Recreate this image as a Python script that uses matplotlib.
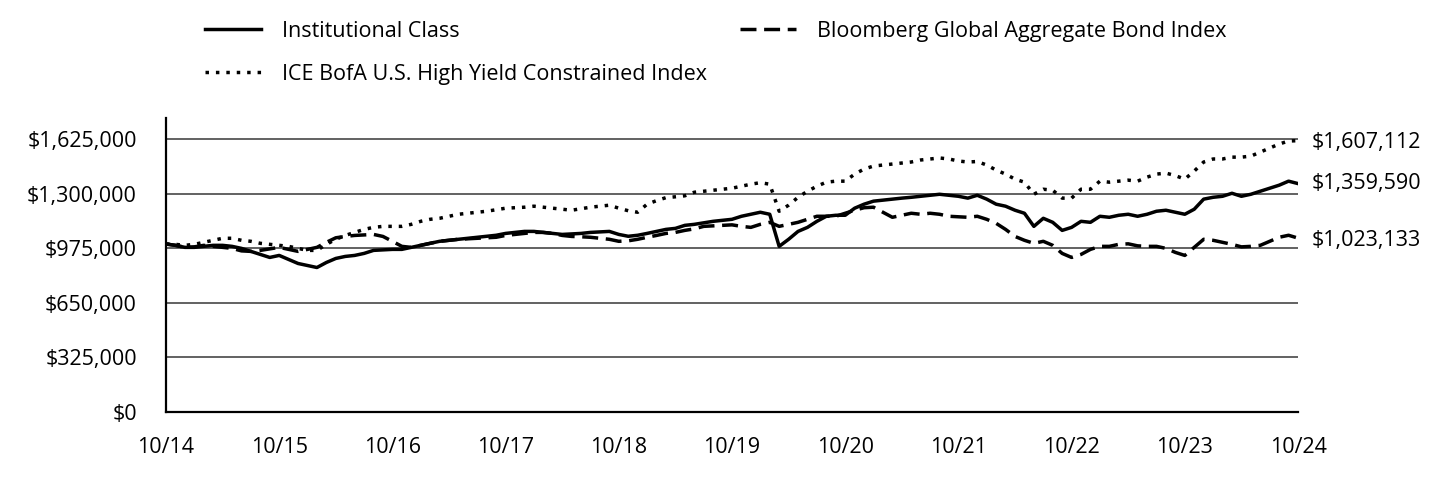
import matplotlib
matplotlib.use("Agg")
import matplotlib.pyplot as plt
from matplotlib.ticker import FuncFormatter

plt.rcParams['font.family'] = ['Open Sans', 'DejaVu Sans']

# growth of $1,000,000, monthly 10/14 .. 10/24, values in thousands of dollars
inst_k = [1000, 992, 980, 980, 986, 992, 992, 986, 974, 956, 938, 920, 932,
          908, 884, 872, 860, 890, 914, 926, 932, 944, 962, 965, 968,
          968, 980, 992, 1004, 1016, 1022, 1028, 1034, 1040, 1046, 1052, 1063,
          1069, 1075, 1075, 1069, 1063, 1057, 1060, 1063, 1069, 1072, 1075, 1057,
          1046, 1052, 1063, 1075, 1087, 1093, 1111, 1117, 1126, 1135, 1141, 1147,
          1165, 1177, 1189, 1177, 986, 1028, 1075, 1099, 1135, 1165, 1171, 1171,
          1213, 1237, 1255, 1261, 1267, 1273, 1278, 1284, 1290, 1296, 1290, 1284,
          1273, 1290, 1267, 1237, 1225, 1201, 1183, 1105, 1153, 1129, 1081, 1099,
          1135, 1129, 1165, 1159, 1171, 1177, 1165, 1177, 1195, 1201, 1189, 1177,
          1207, 1267, 1278, 1284, 1302, 1284, 1296, 1314, 1332, 1350, 1374, 1359.59]

bbg_k = [1000, 992, 980, 983, 992, 986, 980, 974, 959, 956, 962, 971, 980,
         968, 956, 968, 980, 1010, 1037, 1045, 1051, 1054, 1057, 1045, 1016,
         986, 980, 992, 1004, 1016, 1022, 1028, 1031, 1034, 1037, 1040, 1051,
         1057, 1063, 1069, 1069, 1063, 1051, 1045, 1043, 1040, 1034, 1028, 1016,
         1019, 1028, 1040, 1051, 1063, 1069, 1081, 1090, 1105, 1108, 1111, 1114,
         1105, 1099, 1117, 1129, 1105, 1117, 1129, 1147, 1165, 1165, 1165, 1183,
         1201, 1216, 1219, 1189, 1159, 1171, 1183, 1177, 1183, 1177, 1165, 1162,
         1159, 1165, 1147, 1123, 1087, 1045, 1022, 1004, 1016, 992, 944, 920,
         938, 968, 986, 986, 998, 1001, 989, 986, 986, 974, 950, 932,
         980, 1028, 1022, 1010, 998, 983, 986, 992, 1016, 1040, 1052, 1035]

hy_k = [1000, 998, 992, 998, 1010, 1022, 1034, 1034, 1022, 1016, 1004, 998, 992,
        986, 974, 962, 962, 998, 1028, 1051, 1069, 1087, 1099, 1105, 1105,
        1105, 1117, 1135, 1147, 1153, 1165, 1177, 1183, 1189, 1195, 1204, 1213,
        1216, 1219, 1225, 1219, 1213, 1207, 1201, 1210, 1219, 1225, 1231, 1213,
        1198, 1189, 1237, 1258, 1276, 1281, 1287, 1308, 1314, 1320, 1326, 1332,
        1344, 1356, 1365, 1356, 1195, 1231, 1278, 1314, 1344, 1368, 1374, 1374,
        1416, 1446, 1464, 1470, 1476, 1482, 1488, 1500, 1506, 1512, 1506, 1494,
        1488, 1491, 1470, 1440, 1416, 1386, 1368, 1296, 1326, 1320, 1273, 1273,
        1326, 1326, 1374, 1368, 1374, 1380, 1374, 1398, 1416, 1422, 1407, 1386,
        1434, 1488, 1506, 1506, 1517, 1517, 1523, 1547, 1571, 1595, 1613, 1615]

end_labels = ["$1,359,590", "$1,023,133", "$1,607,112"]
end_values = [1359590, 1023133, 1607112]

x_labels = ["10/14", "10/15", "10/16", "10/17", "10/18", "10/19",
            "10/20", "10/21", "10/22", "10/23", "10/24"]
y_ticks = [0, 325000, 650000, 975000, 1300000, 1625000]

months = list(range(len(inst_k)))
inst = [v * 1000 for v in inst_k]
bbg = [v * 1000 for v in bbg_k]
hy = [v * 1000 for v in hy_k]

fs = 15.5

fig = plt.figure(figsize=(14.4, 4.8), dpi=100)
ax = fig.add_axes([166 / 1440, 1 - 412 / 480, (1298 - 166) / 1440, (412 - 118) / 480])

lw = 2.5
l1, = ax.plot(months, inst, color="black", lw=lw, label="Institutional Class", zorder=5)
l2, = ax.plot(months, bbg, color="black", lw=lw, dashes=(4.6, 2.2),
              label="Bloomberg Global Aggregate Bond Index", zorder=4)
l3, = ax.plot(months, hy, color="black", lw=lw, dashes=(1, 2.0),
              label="ICE BofA U.S. High Yield Constrained Index", zorder=3)

ax.set_xlim(0, 120)
ax.set_ylim(0, 1750000)
ax.set_yticks(y_ticks)
ax.yaxis.set_major_formatter(FuncFormatter(lambda v, p: "${:,.0f}".format(v)))
ax.set_xticks(list(range(0, 121, 12)))
ax.set_xticklabels(x_labels)
ax.tick_params(axis="y", length=0, pad=21, labelsize=fs)
ax.tick_params(axis="x", length=0, pad=18, labelsize=fs)

ax.grid(axis="y", color="#555555", lw=1.3)
ax.set_axisbelow(True)
for s in ["top", "right"]:
    ax.spines[s].set_visible(False)
ax.spines["left"].set_linewidth(1.6)
ax.spines["bottom"].set_linewidth(1.6)

for txt, v in zip(end_labels, end_values):
    ax.annotate(txt, xy=(120, v), xytext=(10, 0), textcoords="offset points",
                ha="left", va="center", fontsize=fs, annotation_clip=False)

fig.legend(handles=[l1, l3, l2], loc="upper left", ncol=2,
           bbox_to_anchor=(205 / 1440, 1 - 21 / 480), frameon=False,
           fontsize=fs, borderpad=0, borderaxespad=0, handlelength=2.6,
           handletextpad=1.0, columnspacing=1.5, labelspacing=1.0)

fig.savefig("out.png", dpi=100)
